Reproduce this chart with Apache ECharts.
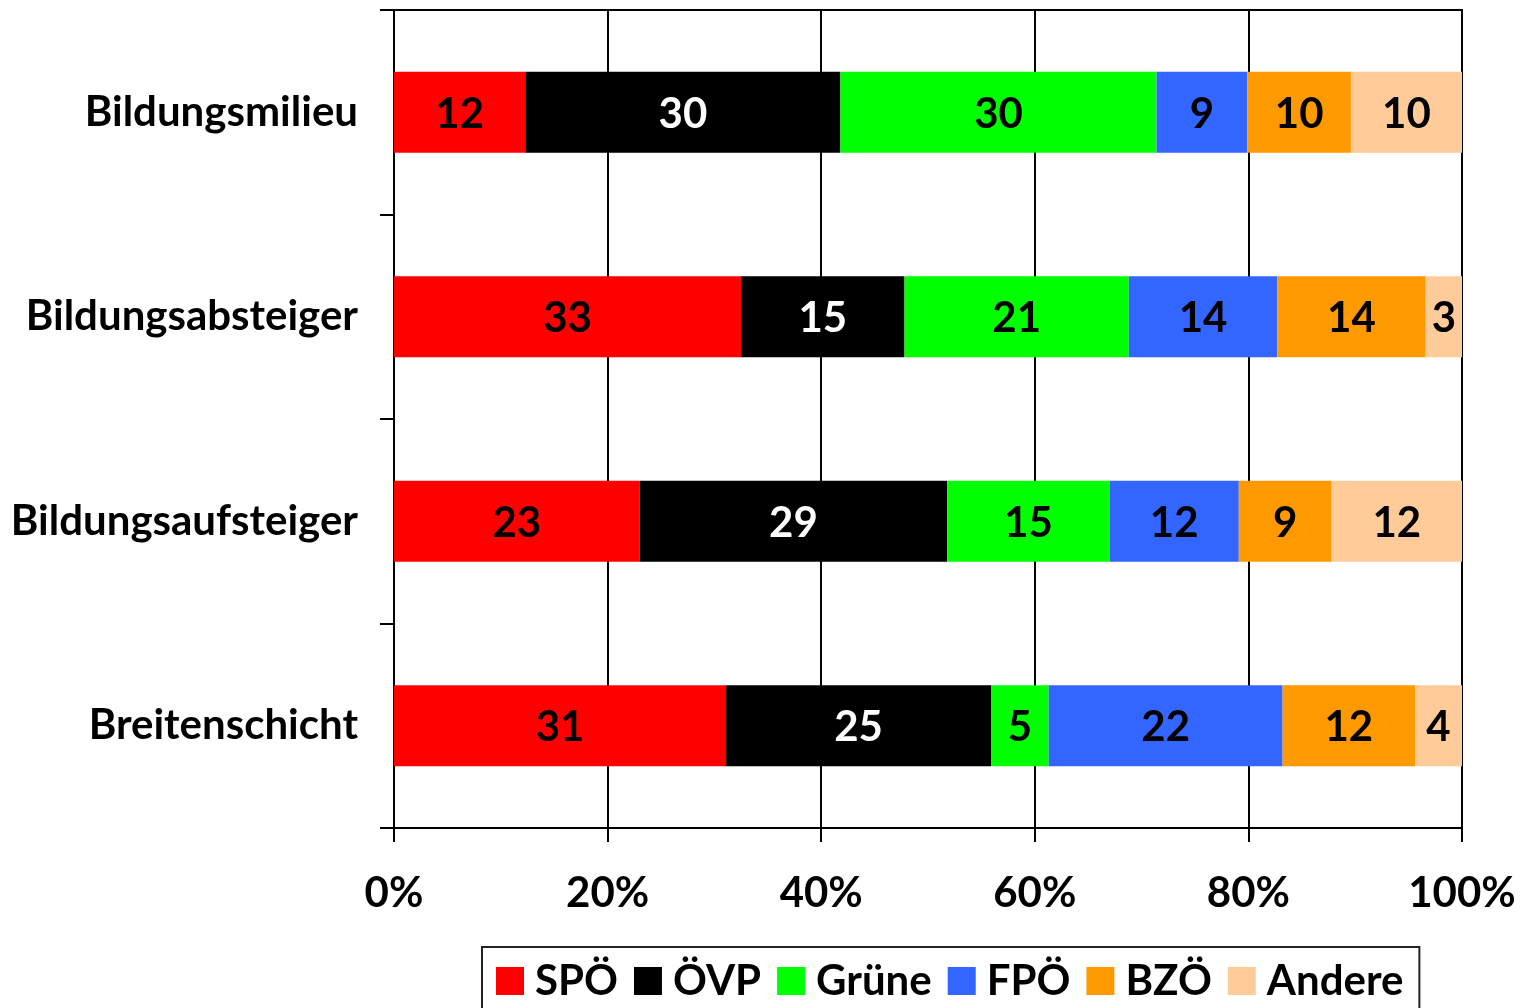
<!DOCTYPE html>
<html>
<head>
<meta charset="utf-8">
<script src="https://cdn.jsdelivr.net/npm/echarts@6/dist/echarts.min.js"></script>
<style>
  html, body { margin: 0; padding: 0; background: #fff; }
  #chart { width: 1528px; height: 1008px; }
</style>
</head>
<body>
<div id="chart"></div>
<script>
// Milieus, von oben nach unten
const categories = ['Bildungsmilieu', 'Bildungsabsteiger', 'Bildungsaufsteiger', 'Breitenschicht'];

// Anteile in Prozent
const spo    = [12.3, 32.5, 23.0, 31.1];
const ovp    = [29.5, 15.3, 28.8, 24.8];
const grune  = [29.6, 21.0, 15.2, 5.4];
const fpo    = [8.5, 13.9, 12.1, 21.9];
const bzo    = [9.7, 13.9, 8.7, 12.4];
const andere = [10.4, 3.4, 12.2, 4.4];

const xTicks = [0, 20, 40, 60, 80, 100];

const FONT = 'Lato';
const FS = 42;

function mkSeries(name, data, color, labelColor) {
    return {
        name: name,
        type: 'bar',
        stack: 'total',
        barWidth: 81,
        data: data,
        itemStyle: { color: color },
        label: {
            show: true,
            position: 'inside',
            offset: [0, 2],
            formatter: p => Math.round(p.value),
            color: labelColor || '#000',
            fontFamily: FONT,
            fontWeight: 'bold',
            fontSize: FS
        }
    };
}

const chart = echarts.init(document.getElementById('chart'), null, { renderer: 'canvas' });

const option = {
    animation: false,
    backgroundColor: '#fff',
    grid: {
        left: 394, top: 10, right: 66, bottom: 180,
        show: true,
        borderColor: '#000',
        borderWidth: 2
    },
    xAxis: {
        type: 'value',
        min: xTicks[0],
        max: xTicks[xTicks.length - 1],
        interval: 20,
        axisLine: { show: true, lineStyle: { color: '#000', width: 2 } },
        axisTick: { show: true, length: 14, lineStyle: { color: '#000', width: 2 } },
        splitLine: { show: true, lineStyle: { color: '#000', width: 2 } },
        axisLabel: {
            formatter: '{value}%',
            margin: 44,
            color: '#000',
            fontFamily: FONT,
            fontWeight: 'bold',
            fontSize: FS
        }
    },
    yAxis: {
        type: 'category',
        inverse: true,
        data: categories,
        axisLine: { show: true, lineStyle: { color: '#000', width: 2 } },
        axisTick: { show: true, length: 14, lineStyle: { color: '#000', width: 2 } },
        axisLabel: {
            margin: 36,
            color: '#000',
            fontFamily: FONT,
            fontWeight: 'bold',
            fontSize: FS,
            padding: [4, 0, 0, 0]
        }
    },
    legend: {
        left: 482,
        top: 947,
        padding: [13, 16, 20, 14],
        borderColor: '#222',
        borderWidth: 2,
        itemWidth: 28,
        itemHeight: 28,
        itemGap: 16,
        icon: 'rect',
        textStyle: {
            color: '#000',
            fontFamily: FONT,
            fontWeight: 'bold',
            fontSize: FS,
            padding: [0, 0, 0, 6]
        },
        data: ['SPÖ', 'ÖVP', 'Grüne', 'FPÖ', 'BZÖ', 'Andere']
    },
    series: [
        mkSeries('SPÖ', spo, '#FF0000'),
        mkSeries('ÖVP', ovp, '#000000', '#fff'),
        mkSeries('Grüne', grune, '#00FF00'),
        mkSeries('FPÖ', fpo, '#3366FF'),
        mkSeries('BZÖ', bzo, '#FF9900'),
        mkSeries('Andere', andere, '#FFCC99')
    ]
};

chart.setOption(option);
</script>
</body>
</html>
